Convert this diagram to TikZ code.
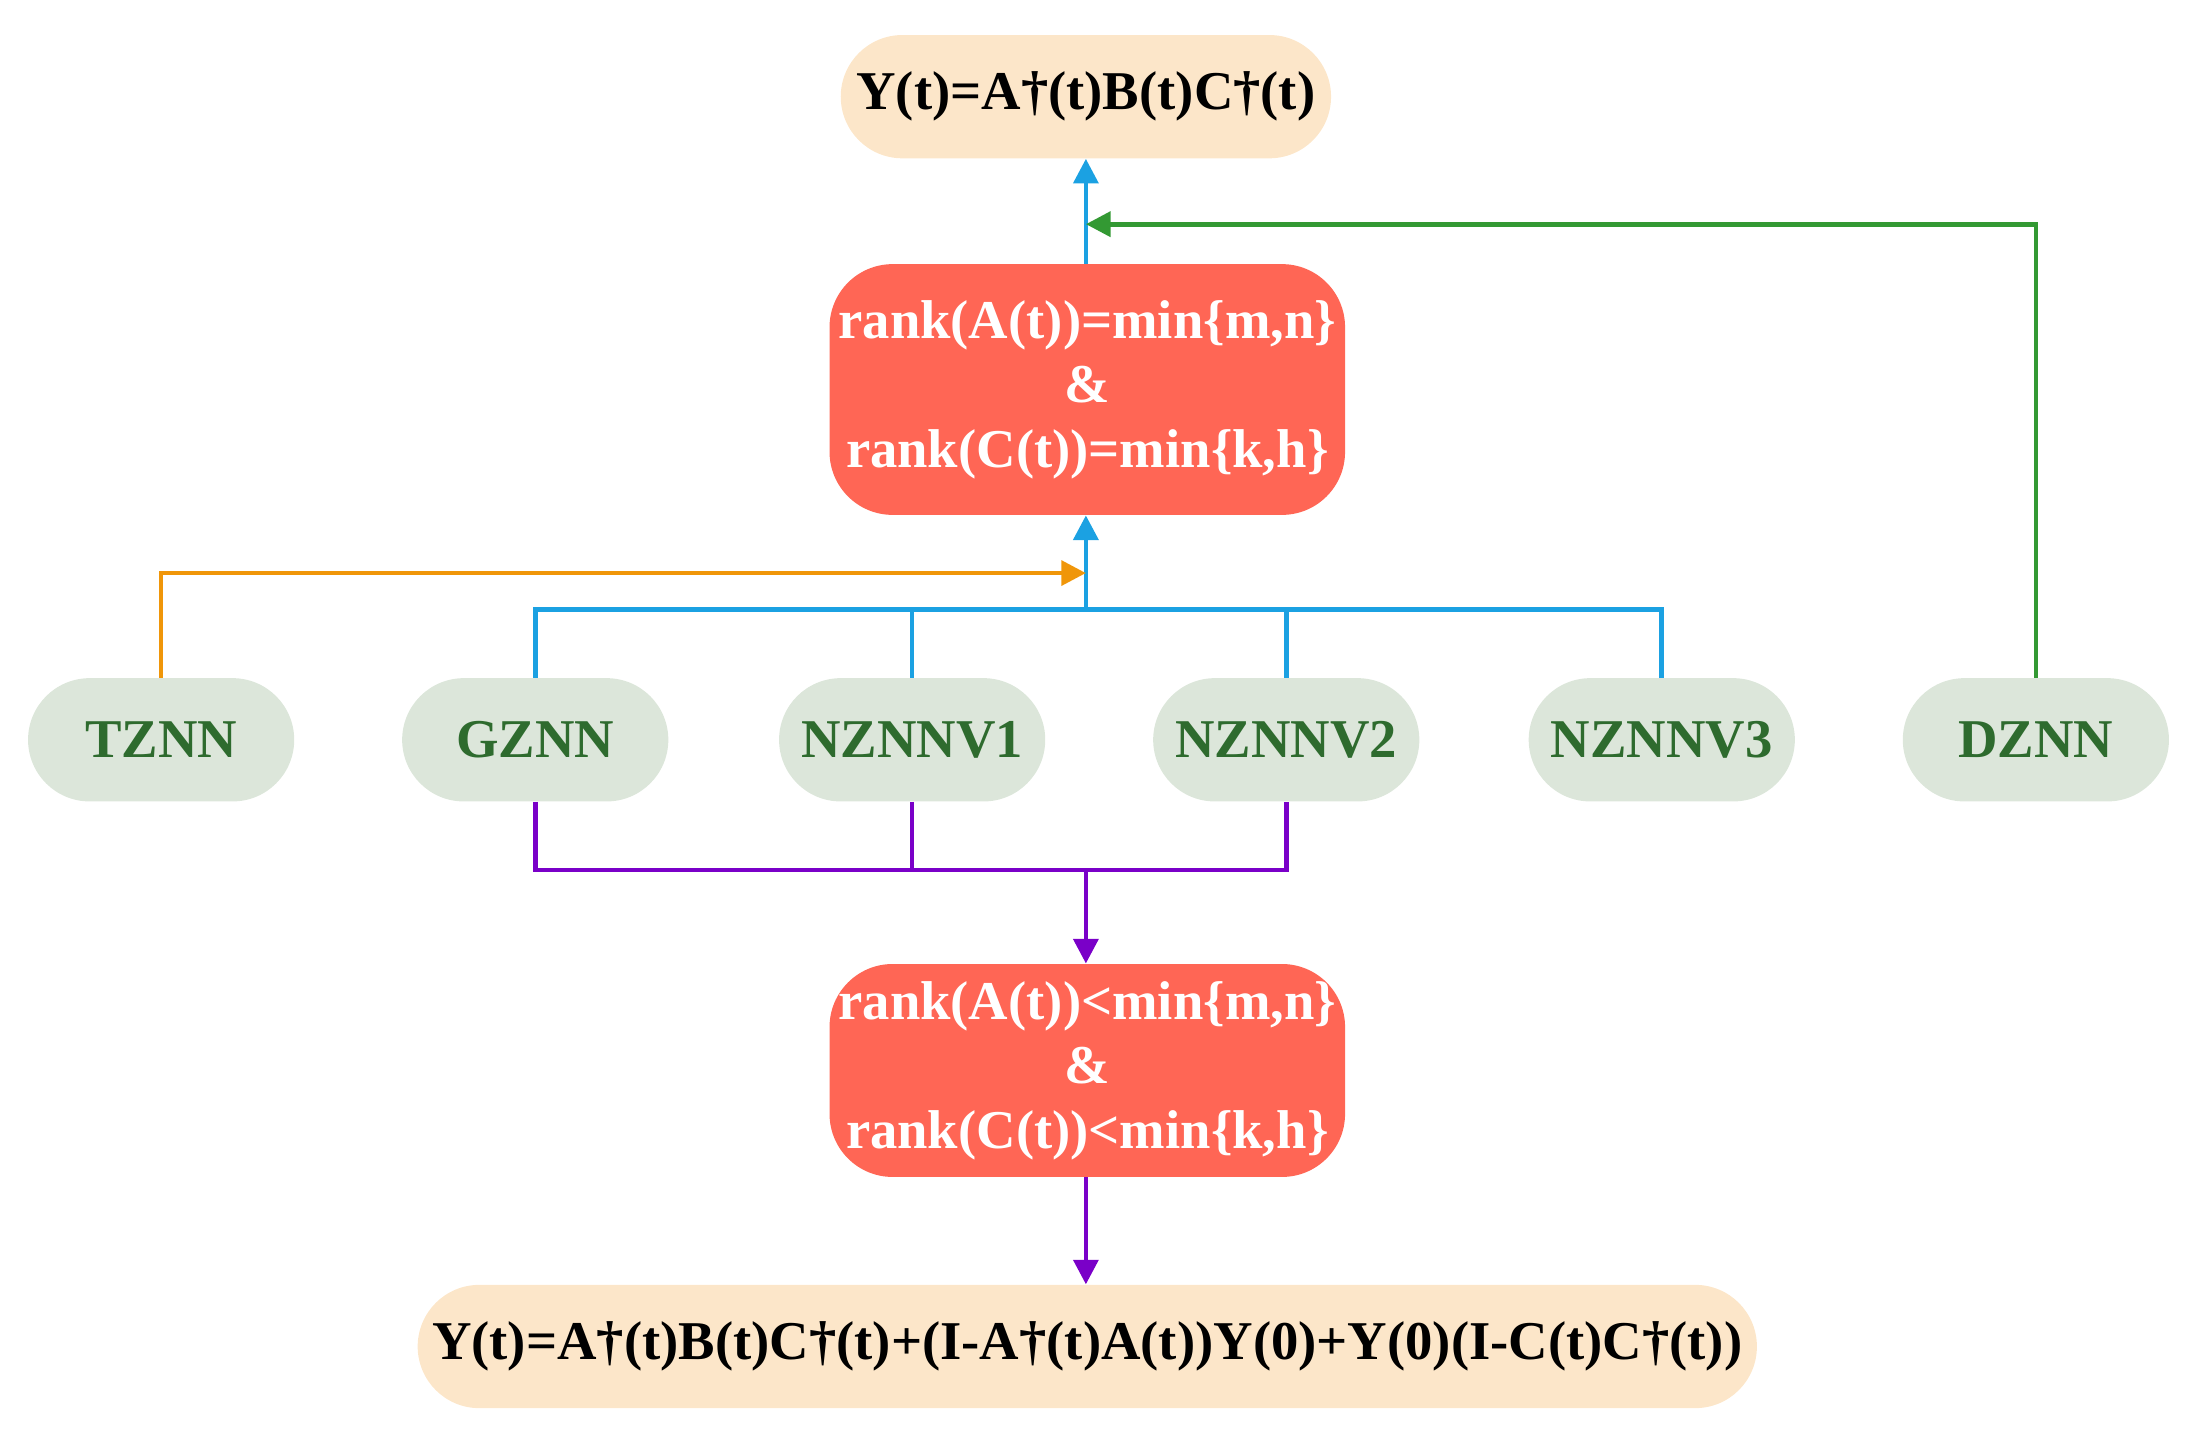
\documentclass[tikz,border=0pt]{standalone}
\usepackage{fontspec}
\setmainfont{Liberation Serif}
\usetikzlibrary{arrows.meta}
\definecolor{beige}{HTML}{FCE6C9}
\definecolor{redb}{HTML}{FF6655}
\definecolor{pale}{HTML}{DCE6DA}
\definecolor{dgreen}{HTML}{2E6B2E}
\definecolor{lblue}{HTML}{1BA1E2}
\definecolor{lgreen}{HTML}{339933}
\definecolor{orng}{HTML}{F09609}
\definecolor{purp}{HTML}{7A00C8}
\begin{document}
\begin{tikzpicture}[x=0.02cm,y=-0.02cm,
  every node/.style={font=\fontsize{22.2}{26.2}\selectfont\bfseries, inner sep=0pt},
  res/.style={fill=beige, rounded corners=0.88cm, minimum height=1.76cm},
  cond/.style={fill=redb, text=white, rounded corners=0.9cm, minimum width=7.36cm, align=center},
  net/.style={fill=pale, text=dgreen, rounded corners=0.88cm, minimum width=3.8cm, minimum height=1.76cm},
  ln/.style={line width=1.9pt},
  tip/.style={-{Triangle[length=10pt,width=10pt]}}]
\useasboundingbox (0,0) rectangle (1563,1023);
\node[res, minimum width=7cm] (top) at (775,69) {Y(t)=A†(t)B(t)C†(t)};
\node[cond, minimum height=3.58cm] (r1) at (776,278) {rank(A(t))=min\{m,n\}\\\&\\rank(C(t))=min\{k,h\}};
\node[cond, minimum height=3.04cm] (r2) at (776,764) {rank(A(t))<min\{m,n\}\\\&\\rank(C(t))<min\{k,h\}};
\node[res, minimum width=19.12cm] (bot) at (776,961) {Y(t)=A†(t)B(t)C†(t)+(I-A†(t)A(t))Y(0)+Y(0)(I-C(t)C†(t))};
\node[net] (t) at (115,528) {TZNN};
\node[net] (g) at (382,528) {GZNN};
\node[net] (n1) at (651,528) {NZNNV1};
\node[net] (n2) at (918,528) {NZNNV2};
\node[net] (n3) at (1186,528) {NZNNV3};
\node[net] (d) at (1453,528) {DZNN};
\coordinate (bj) at (775,435);
\coordinate (gj) at (775,160);
\coordinate (oj) at (775,409);
\coordinate (pj) at (775,621);
\draw[ln, lblue, tip] (r1.north -| top) -- (top.south);
\draw[ln, lgreen, tip] (d.north) |- (gj);
\draw[ln, lblue] (g.north) |- (n3.north |- bj) -- (n3.north);
\draw[ln, lblue] (n1.north) -- (n1.north |- bj);
\draw[ln, lblue] (n2.north) -- (n2.north |- bj);
\draw[ln, lblue, tip] (bj) -- (r1.south -| bj);
\draw[ln, orng, tip] (t.north) |- (oj);
\draw[ln, purp] (g.south) |- (n2.south |- pj) -- (n2.south);
\draw[ln, purp] (n1.south) -- (n1.south |- pj);
\draw[ln, purp, tip] (pj) -- (r2.north -| pj);
\draw[ln, purp, tip] (r2.south -| pj) -- (bot.north -| pj);
\end{tikzpicture}
\end{document}
